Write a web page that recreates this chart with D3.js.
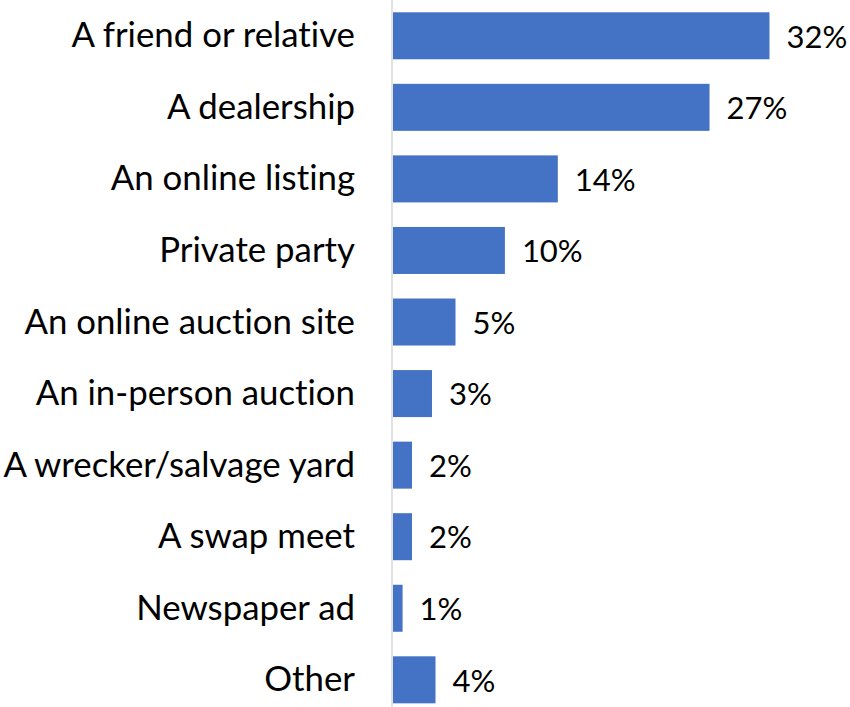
<!DOCTYPE html>
<html>
<head>
<meta charset="utf-8">
<script src="https://cdn.jsdelivr.net/npm/d3@7"></script>
<style>
  html, body { margin: 0; padding: 0; background: #fff; }
  svg { display: block; }
  text { font-variant-ligatures: none; font-feature-settings: "liga" 0, "clig" 0; }
</style>
</head>
<body>
<svg id="chart" width="850" height="707"></svg>
<script>
// Where the vehicle was purchased (share of respondents)
const categories = [
  "A friend or relative",
  "A dealership",
  "An online listing",
  "Private party",
  "An online auction site",
  "An in-person auction",
  "A wrecker/salvage yard",
  "A swap meet",
  "Newspaper ad",
  "Other"
];
const shares = [32.1, 27.0, 14.1, 9.6, 5.4, 3.4, 1.7, 1.7, 0.9, 3.7];

const W = 850, H = 707;
const fontFamily = "Lato, 'Open Sans', 'Liberation Sans', sans-serif";
const barColor = "#4472C4";

const svg = d3.select("#chart");

const x = d3.scaleLinear().domain([0, 35]).range([392, 392 + 35 * 11.76]);
const y = d3.scaleBand()
  .domain(categories)
  .range([0, 715.6])
  .paddingInner(0.343)
  .paddingOuter(0.1715);

const fmt = v => d3.format(".0f")(v) + "%";

// vertical axis line
svg.append("line")
  .attr("x1", x(0)).attr("x2", x(0))
  .attr("y1", 0).attr("y2", H)
  .attr("stroke", "#d9d9d9")
  .attr("stroke-width", 1.5);

// bars
svg.append("g").selectAll("rect")
  .data(categories)
  .join("rect")
  .attr("x", x(0) + 1)
  .attr("y", d => y(d))
  .attr("width", (d, i) => x(shares[i]) - x(0) - 1)
  .attr("height", y.bandwidth())
  .attr("fill", barColor);

// category labels
const catSize = 34.8;
svg.append("g").selectAll("text")
  .data(categories)
  .join("text")
  .attr("x", 355)
  .attr("y", d => y(d) + y.bandwidth() / 2)
  .attr("dy", "0.33em")
  .attr("text-anchor", "end")
  .attr("font-family", fontFamily)
  .attr("font-size", catSize)
  .attr("fill", "#000")
  .text(d => d);

// value labels
const valSize = 31;
svg.append("g").selectAll("text")
  .data(categories)
  .join("text")
  .attr("x", (d, i) => x(shares[i]) + 17)
  .attr("y", d => y(d) + y.bandwidth() / 2)
  .attr("dy", "0.38em")
  .attr("font-family", fontFamily)
  .attr("font-size", valSize)
  .attr("fill", "#000")
  .text((d, i) => fmt(shares[i]));
</script>
</body>
</html>
